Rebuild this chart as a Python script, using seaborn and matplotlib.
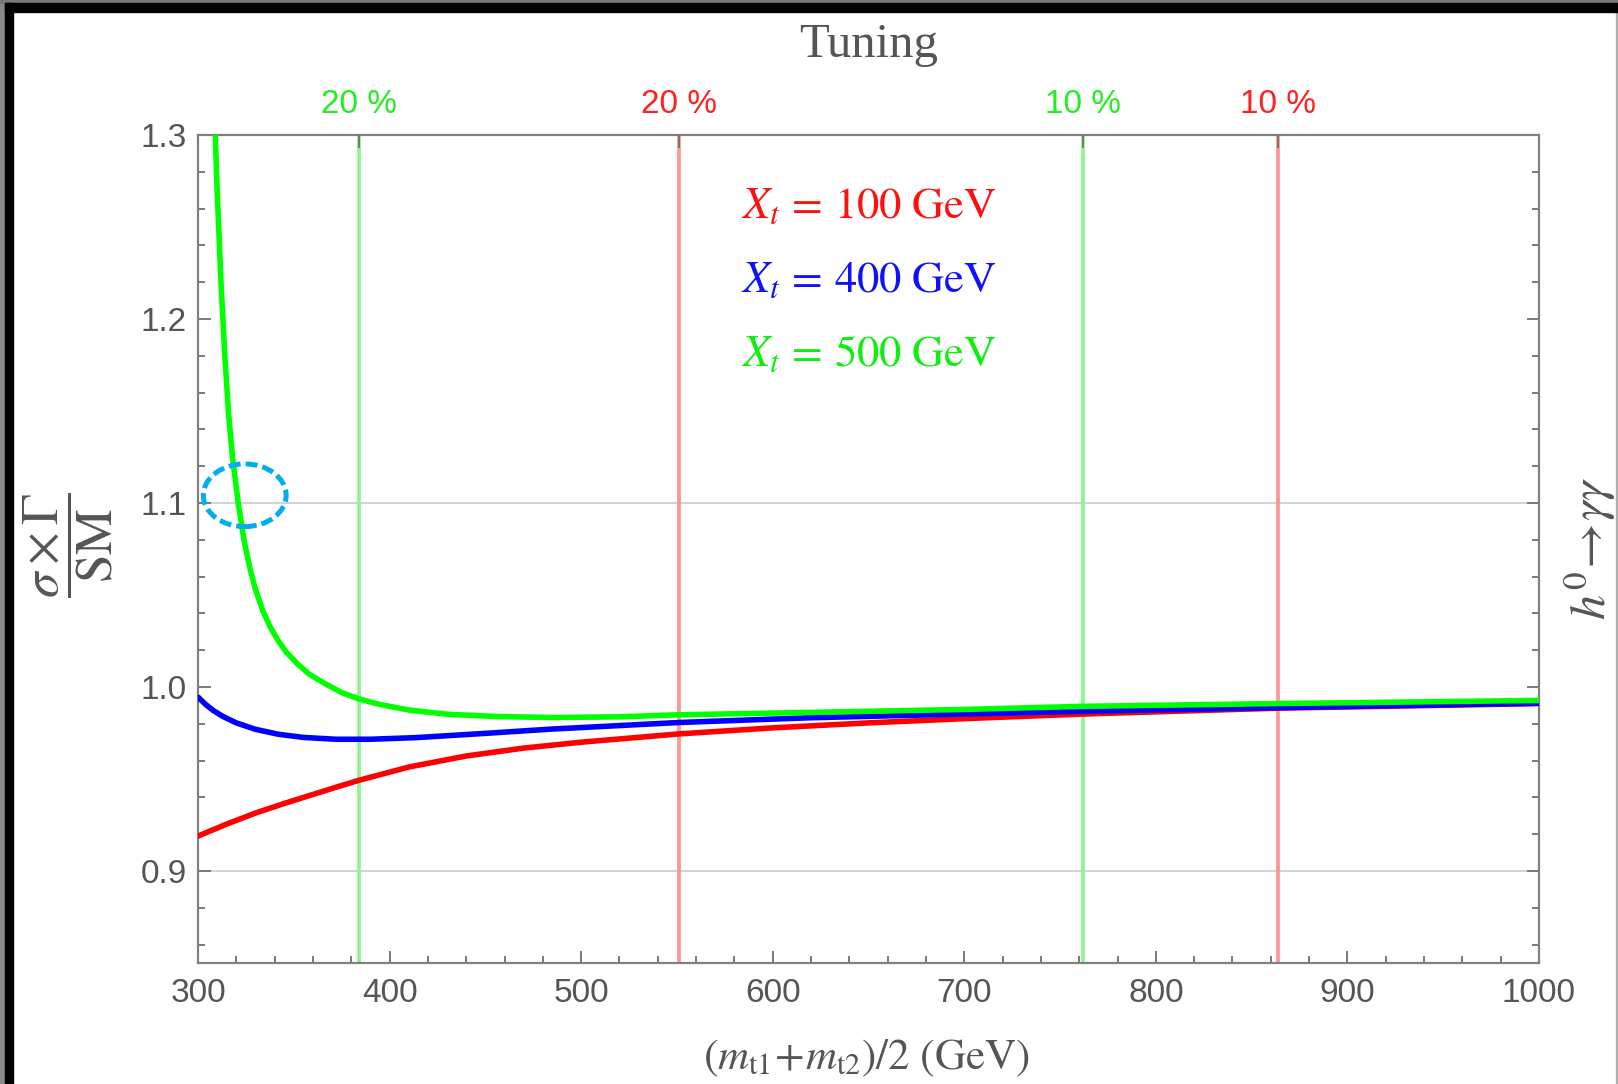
import numpy as np
import pandas as pd
import matplotlib
matplotlib.use("Agg")
import matplotlib.pyplot as plt
import seaborn as sns
from matplotlib.patches import Ellipse, Rectangle

# ---------------- data ----------------
x_red = [300, 315, 330, 345, 360, 372, 384, 410, 440, 470, 500, 551, 600, 650, 700, 762, 864, 1000]
y_red = [0.919, 0.9255, 0.9315, 0.9367, 0.9416, 0.9455, 0.9493, 0.9565, 0.9625, 0.9668, 0.9700,
         0.9745, 0.9778, 0.9805, 0.9828, 0.9853, 0.9885, 0.991]

x_blue = [300, 304, 308, 313, 320, 330, 342, 355, 372, 390, 414, 450, 484, 551, 620, 700, 762, 864, 1000]
y_blue = [0.9945, 0.9905, 0.9872, 0.984, 0.9805, 0.977, 0.9743, 0.9726, 0.9716, 0.9716, 0.9725,
          0.9748, 0.9771, 0.9807, 0.9833, 0.9853, 0.9868, 0.9888, 0.9912]

x_green = [306, 308, 310, 312, 314, 316, 318, 321, 324, 327, 330, 334, 338, 342, 346, 352, 358, 366,
           375, 384, 395, 410, 430, 455, 485, 520, 551, 620, 700, 762, 864, 1000]
y_green = [1.40, 1.33, 1.27, 1.22, 1.18, 1.148, 1.125, 1.100, 1.080, 1.065, 1.053, 1.041, 1.032,
           1.025, 1.019, 1.0125, 1.007, 1.002, 0.997, 0.9935, 0.9905, 0.9875, 0.9852, 0.9840,
           0.9834, 0.9838, 0.9849, 0.9862, 0.9878, 0.9895, 0.991, 0.9927]

series_names = ["Xt = 100 GeV", "Xt = 400 GeV", "Xt = 500 GeV"]
series_labels = [r"$X_t\,=\,100\ \mathrm{GeV}$", r"$X_t\,=\,400\ \mathrm{GeV}$", r"$X_t\,=\,500\ \mathrm{GeV}$"]
series_colors = ["#ff0000", "#0000ff", "#00ff00"]
label_colors = ["#ff1010", "#1010ff", "#10ee10"]

tuning_x = [384, 551, 762, 864]
tuning_labels = ["20 %", "20 %", "10 %", "10 %"]
tuning_text_colors = ["#22ee22", "#ff2020", "#22ee22", "#ff2020"]
tuning_line_colors = ["#8ff58f", "#ff9595", "#8ff58f", "#ff9595"]

x_major = [300, 400, 500, 600, 700, 800, 900, 1000]
x_major_labels = ["300", "400", "500", "600", "700", "800", "900", "1000"]
y_major = [0.9, 1.0, 1.1, 1.2, 1.3]
y_major_labels = ["0.9", "1.0", "1.1", "1.2", "1.3"]
grid_y = [0.9, 1.1]

# ---------------- build long-form table ----------------
df = pd.concat([
    pd.DataFrame({"x": x_red, "y": y_red, "series": series_names[0]}),
    pd.DataFrame({"x": x_blue, "y": y_blue, "series": series_names[1]}),
    pd.DataFrame({"x": x_green, "y": y_green, "series": series_names[2]}),
], ignore_index=True)

sns.set_theme(style="white")
plt.rcParams["font.family"] = ["Liberation Sans", "DejaVu Sans"]
plt.rcParams["mathtext.fontset"] = "stix"

W, H = 1618, 1084
fig = plt.figure(figsize=(W / 100, H / 100), dpi=100)
fig.patch.set_facecolor("white")
L, R, T, B = 198, 1539, 135, 963
ax = fig.add_axes([L / W, 1 - B / H, (R - L) / W, (B - T) / H])

for gy in grid_y:
    ax.axhline(gy, color="#cfcfcf", lw=1.3, zorder=0.5)
for xv, c in zip(tuning_x, tuning_line_colors):
    ax.axvline(xv, color=c, lw=2.7, zorder=1)

sns.lineplot(data=df, x="x", y="y", hue="series", hue_order=series_names,
             palette=dict(zip(series_names, series_colors)), linewidth=4.0,
             estimator=None, sort=False, legend=False, ax=ax, zorder=3)
for ln in ax.lines:
    ln.set_solid_joinstyle("round")

ax.set_xlim(300, 1000)
ax.set_ylim(0.85, 1.3)
ax.set_xlabel("")
ax.set_ylabel("")
ax.set_xticks(x_major)
ax.set_xticklabels(x_major_labels)
ax.set_xticks(np.arange(300, 1001, 20), minor=True)
ax.set_yticks(y_major)
ax.set_yticklabels(y_major_labels)
ax.set_yticks(np.arange(0.86, 1.301, 0.02), minor=True)

tick_col = "#707070"
lab_col = "#555555"
ax.tick_params(which="both", direction="in", color=tick_col, width=1.3,
               top=False, right=True, bottom=True, left=True,
               labelsize=24, labelcolor=lab_col)
ax.tick_params(which="major", length=9)
ax.tick_params(which="minor", length=5)
ax.tick_params(axis="x", which="major", pad=11)
ax.tick_params(axis="y", which="major", pad=8)
for s in ax.spines.values():
    s.set_color("#808080")
    s.set_linewidth(1.6)

# top "Tuning" axis
ax2 = ax.twiny()
ax2.set_xlim(300, 1000)
ax2.set_xticks(tuning_x)
ax2.set_xticklabels(tuning_labels)
ax2.tick_params(direction="in", length=9, width=1.3, color=tick_col, labelsize=24, pad=11)
for lab, c in zip(ax2.get_xticklabels(), tuning_text_colors):
    lab.set_color(c)
for s in ax2.spines.values():
    s.set_visible(False)
ax2.grid(False)

# legend-like texts
for lbl, c, yy in zip(series_labels, label_colors, [206, 281, 354]):
    fig.text(741 / W, 1 - yy / H, lbl, color=c, fontsize=32, ha="left", va="center")

# titles / axis labels
fig.text(868.5 / W, 1 - 45 / H, "Tuning", family=["Liberation Serif", "DejaVu Serif"],
         fontsize=35, color=lab_col, ha="center", va="center")
fig.text(866 / W, 1 - 1058 / H, r"$(m_{\mathrm{t}1}\!+\!m_{\mathrm{t}2})/2\ (\mathrm{GeV})$",
         fontsize=31, color=lab_col, ha="center", va="center")
fig.text(68 / W, 1 - 545 / H, r"$\dfrac{\sigma\times\Gamma}{\mathrm{SM}}$",
         fontsize=37, color=lab_col, ha="center", va="center", rotation=90)
fig.text(1590 / W, 1 - 548 / H, r"$h^0\!\rightarrow\!\gamma\gamma$",
         fontsize=36, color=lab_col, ha="center", va="center", rotation=90)

# dashed annotation ellipse
ax.add_patch(Ellipse((324.4, 1.1042), 43.2, 0.0341, fill=False, ec="#00aeef",
                     lw=3.6, ls=(0, (2.4, 1.0)), zorder=6, clip_on=False))

# screenshot frame
tf = fig.transFigure
fig.add_artist(Rectangle((0, 0), 5 / W, 1, transform=tf, color="#8a8a8a", zorder=20))
fig.add_artist(Rectangle((0, 1 - 3 / H), 1, 3 / H, transform=tf, color="#777777", zorder=20))
fig.add_artist(Rectangle((5 / W, 1 - 12 / H), 1, 9 / H, transform=tf, color="black", zorder=21))
fig.add_artist(Rectangle((5 / W, 0), 8 / W, 1 - 3 / H, transform=tf, color="black", zorder=21))
fig.add_artist(Rectangle((1616 / W, 0), 2 / W, 1 - 12 / H, transform=tf, color="#b0b0b0", zorder=20))

fig.savefig("out.png", dpi=100)
